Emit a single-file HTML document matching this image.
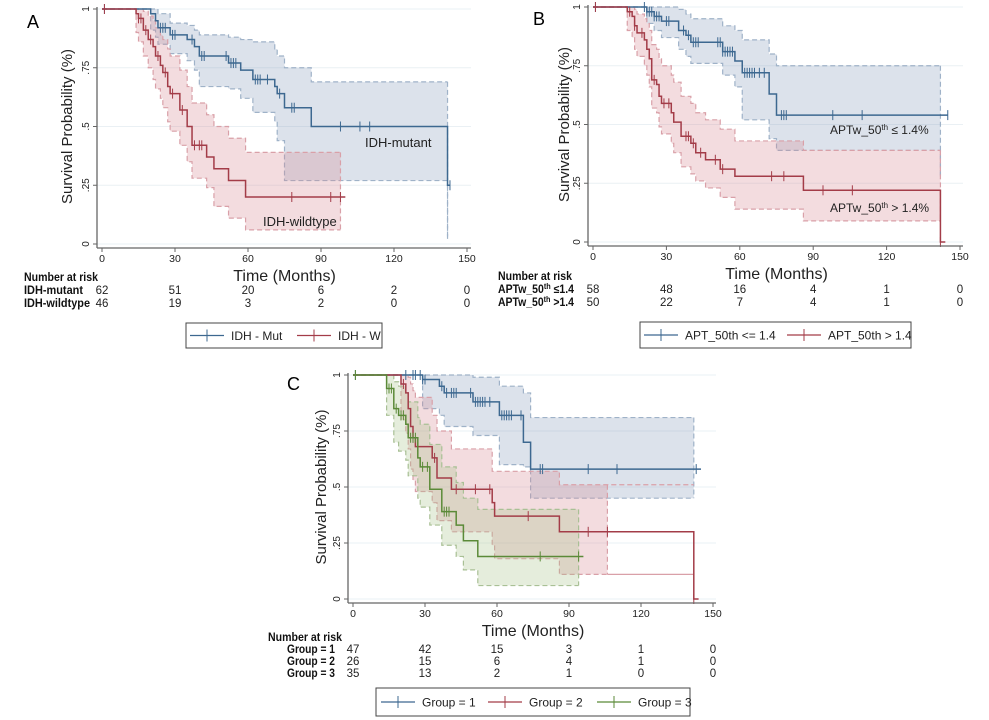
<!DOCTYPE html>
<html><head><meta charset="utf-8"><style>
html,body{margin:0;padding:0;background:#fff;}
svg{display:block;font-family:"Liberation Sans",sans-serif;}
</style></head><body>
<svg id="fig" width="989" height="720" viewBox="0 0 989 720" xmlns="http://www.w3.org/2000/svg"></svg>
<script>
// ---------- Panel A data ----------
const aMutTimes = [0,20,22,23,28,35,38,40,52,57,62,71,72,75,86,142];
const aMutSurv  = [1,.98,.95,.92,.89,.87,.84,.80,.77,.74,.70,.67,.64,.58,.50,.25];
const aMutUp    = [1,1,1,.98,.94,.93,.91,.89,.88,.87,.86,.83,.80,.75,.69,.69];
const aMutLo    = [1,.91,.88,.85,.81,.78,.74,.67,.66,.62,.56,.52,.44,.27,.27,.02];
const aMutCens  = [1,24,25,26,29,30,37,41,42,51,53,54,55,63,64,65,68,73,78,79,98,106,110,143];
const aWtTimes = [0,14,15,17,19,21,22,24,25,27,28,32,35,37,43,46,52,59];
const aWtSurv  = [1,.98,.96,.91,.87,.84,.80,.76,.73,.67,.64,.57,.50,.42,.37,.32,.27,.20];
const aWtUp    = [1,1,1,.99,.97,.95,.92,.89,.87,.83,.80,.74,.67,.60,.55,.50,.45,.39];
const aWtLo    = [1,.90,.86,.80,.75,.70,.66,.62,.58,.52,.48,.42,.35,.28,.24,.16,.11,.06];
const aWtCens  = [1,15,16,18,20,23,26,29,33,38,40,41,78,94,98];
const aRiskMut = [62,51,20,6,2,0];
const aRiskWt  = [46,19,3,2,0,0];
// ---------- Panel B data ----------
const bLoTimes = [0,22,25,28,35,38,40,53,58,61,72,75,142];
const bLoSurv  = [1,.98,.96,.94,.90,.88,.85,.81,.77,.72,.63,.54,.54];
const bLoUp    = [1,1,1,1,.99,.97,.95,.92,.90,.86,.80,.75,.75];
const bLoLo    = [1,.93,.90,.87,.82,.79,.76,.71,.66,.52,.44,.39,.27];
const bLoCens  = [1,21,22,23,24,25,26,27,30,31,37,39,41,42,43,51,52,53,54,55,56,57,62,63,64,65,66,68,70,77,78,79,98,110,145];
const bHiTimes = [0,14,16,17,18,21,22,23,24,26,27,28,32,33,36,40,42,46,52,58,86,142];
const bHiSurv  = [1,.98,.96,.92,.89,.86,.82,.78,.69,.67,.62,.59,.55,.51,.45,.42,.38,.35,.31,.28,.22,0];
const bHiUp    = [1,1,1,.99,.97,.95,.93,.90,.84,.82,.78,.75,.71,.68,.62,.59,.55,.52,.48,.43,.39,.39];
const bHiLo    = [1,.90,.87,.82,.79,.75,.71,.66,.57,.55,.49,.46,.42,.38,.32,.29,.26,.23,.19,.14,.09,.09];
const bHiCens  = [1,15,17,20,25,29,31,38,39,41,44,50,53,73,78,94,106,142];
const bRiskLo = [58,48,16,4,1,0];
const bRiskHi = [50,22,7,4,1,0];
// ---------- Panel C data ----------
const c1Times = [0,29,36,38,50,61,71,74];
const c1Surv  = [1,.98,.95,.92,.88,.82,.70,.58];
const c1Up    = [1,1,1,1,.99,.95,.92,.81];
const c1Lo    = [1,.85,.82,.77,.73,.60,.59,.45];
const c1Cens  = [1,22,25,26,28,29,30,37,39,41,42,43,49,51,52,53,54,55,57,62,63,64,65,66,70,78,79,98,110,143];
const c1CiEnd = 142;
const c2Times = [0,20,22,23,24,25,26,33,35,41,58,59,86,142];
const c2Surv  = [1,.96,.92,.85,.77,.72,.68,.63,.54,.49,.43,.37,.30,0];
const c2Up    = [1,1,1,.99,.96,.93,.90,.82,.75,.67,.57,.57,.51,.51];
const c2Lo    = [1,.80,.74,.67,.58,.53,.48,.43,.35,.30,.24,.18,.11,.11];
const c2Cens  = [21,25,27,34,43,51,57,73,98,106,142];
const c3Times = [0,14,17,19,22,23,27,28,32,37,43,46,52];
const c3Surv  = [1,.94,.85,.82,.78,.72,.63,.59,.49,.39,.33,.26,.19];
const c3Up    = [1,1,.97,.95,.92,.88,.81,.78,.69,.59,.52,.45,.40];
const c3Lo    = [1,.82,.70,.66,.62,.55,.45,.41,.33,.24,.19,.13,.06];
const c3Cens  = [1,15,16,18,20,21,24,25,26,29,31,38,39,40,78,94];
const cRisk1 = [47,42,15,3,1,0];
const cRisk2 = [26,15,6,4,1,0];
const cRisk3 = [35,13,2,1,0,0];
const xTicks = [0,30,60,90,120,150];
const yTicks = [0,.25,.5,.75,1];
const yTickLabels = ["0",".25",".5",".75","1"];

const NS="http://www.w3.org/2000/svg";
const fig=document.getElementById('fig');
function el(tag,attrs,parent,text){const e=document.createElementNS(NS,tag);for(const k in attrs)e.setAttribute(k,attrs[k]);if(text!==undefined)e.textContent=text;(parent||fig).appendChild(e);return e;}

const BLUE={line:'#3d6890',fill:'rgba(140,160,190,0.30)',dash:'#9fb2c8'};
const RED={line:'#a33c48',fill:'rgba(215,140,150,0.30)',dash:'#d9a0a8'};
const GREEN={line:'#5b8a38',fill:'rgba(170,195,140,0.30)',dash:'#a9c095'};

function stepPts(ts,vs,end,X,Y){let p=[[X(ts[0]),Y(vs[0])]];for(let i=1;i<ts.length;i++){p.push([X(ts[i]),Y(vs[i-1])]);p.push([X(ts[i]),Y(vs[i])]);}p.push([X(end),Y(vs[vs.length-1])]);return p;}
function survAt(ts,vs,t){let s=vs[0];for(let i=0;i<ts.length;i++){if(ts[i]<=t)s=vs[i];}return s;}

function panel(cfg){
  const g=el('g',{});
  
  
  const X=t=>cfg.x0+t*(cfg.x1-cfg.x0)/150, Y=s=>cfg.y0-s*(cfg.y0-cfg.y1);
  yTicks.forEach(v=>{const l=el('line',{x1:cfg.ax,x2:cfg.axR,y1:Y(v),y2:Y(v),stroke:'#eaf0f4','stroke-width':1},g);});
  cfg.series.forEach(s=>{
    const up=stepPts(s.t,s.up,s.ciEnd,X,Y), lo=stepPts(s.t,s.lo,s.ciEnd,X,Y);
    const poly=up.concat(lo.slice().reverse());
    const p=el('polygon',{points:poly.map(q=>q.join(',')).join(' '),fill:s.c.fill,stroke:'none'},g);
    
    [up,lo].forEach(pp=>{const l=el('polyline',{points:pp.map(q=>q.join(',')).join(' '),fill:'none',stroke:s.c.dash,'stroke-width':1.2,'stroke-dasharray':'5,3'},g);});
    const e=up[up.length-1],f=lo[lo.length-1];
    const v=el('line',{x1:e[0],y1:e[1],x2:f[0],y2:f[1],stroke:s.c.dash,'stroke-width':1.2,'stroke-dasharray':'5,3'},g);
  });
  cfg.series.forEach(s=>{
    const pts=stepPts(s.t,s.s,s.end,X,Y);
    const l=el('polyline',{points:pts.map(q=>q.join(',')).join(' '),fill:'none',stroke:s.c.line,'stroke-width':1.5},g);
    
    s.cens.forEach(t=>{const yy=Y(survAt(s.t,s.s,t));const m=el('line',{x1:X(t),x2:X(t),y1:yy-5,y2:yy+5,stroke:s.c.line,'stroke-width':1},g);});
  });
  const ya=el('line',{x1:cfg.ax,x2:cfg.ax,y1:cfg.y1-2,y2:cfg.ab,stroke:'#666','stroke-width':1.3},g);
  const xa=el('line',{x1:cfg.ax,x2:cfg.axR,y1:cfg.ab,y2:cfg.ab,stroke:'#666','stroke-width':1.3},g);
  yTicks.forEach((v,i)=>{el('line',{x1:cfg.ax-4,x2:cfg.ax,y1:Y(v),y2:Y(v),stroke:'#666'},g);
    const t=el('text',{x:cfg.ax-8,y:Y(v),'font-size':10,fill:'#222','text-anchor':'middle',transform:`rotate(-90 ${cfg.ax-8} ${Y(v)})`},g,yTickLabels[i]);});
  xTicks.forEach(v=>{el('line',{x1:X(v),x2:X(v),y1:cfg.ab,y2:cfg.ab+4,stroke:'#666'},g);
    const t=el('text',{x:X(v),y:cfg.ab+14,'font-size':10.5,fill:'#222','text-anchor':'middle'},g,String(v));});
  const yl=el('text',{x:cfg.ylx,y:(cfg.y0+cfg.y1)/2,'font-size':15,fill:'#222','text-anchor':'middle',transform:`rotate(-90 ${cfg.ylx} ${(cfg.y0+cfg.y1)/2})`},g,'Survival Probability (%)');
  const xl=el('text',{x:(cfg.x0+cfg.x1)/2,y:cfg.ab+33,'font-size':16,fill:'#222','text-anchor':'middle'},g,'Time (Months)');
  const lt=el('text',{x:cfg.letter[0],y:cfg.letter[1],'font-size':18,fill:'#000'},g,cfg.letter[2]);
  const h=el('text',{x:cfg.riskX,y:cfg.riskY,'font-size':12,'font-weight':'bold',fill:'#111',textLength:74,lengthAdjust:'spacingAndGlyphs'},g,'Number at risk');
  cfg.rows.forEach((r,i)=>{const yy=cfg.rowY+i*cfg.rowDy;
    const lb=el('text',{x:cfg.rowLX,y:yy,'font-size':11.5,'font-weight':'bold',fill:'#111','text-anchor':cfg.rowAnchor,textLength:r.w,lengthAdjust:'spacingAndGlyphs'},g);lb.innerHTML=r.label;
    r.vals.forEach((v,j)=>{const n=el('text',{x:X(xTicks[j]),y:yy,'font-size':11.5,fill:'#222','text-anchor':'middle'},g,String(v));});
  });
  const L=cfg.legend;
  const b=el('rect',{x:L.x,y:L.y,width:L.w,height:L.h,fill:'#fff',stroke:'#444','stroke-width':1},g);
  L.items.forEach(it=>{const cy=L.y+L.h/2;
    const gi=el('g',{},g);
    el('line',{x1:it.x,x2:it.x+34,y1:cy,y2:cy,stroke:it.c.line,'stroke-width':1.3},gi);
    el('line',{x1:it.x+17,x2:it.x+17,y1:cy-6,y2:cy+6,stroke:it.c.line,'stroke-width':1},gi);
    el('text',{x:it.x+41,y:cy+4.5,'font-size':12,fill:'#222'},gi,it.text);});
}

panel({name:'panel-a',x0:102,x1:467,y1:9,y0:244,ax:97,ab:248,axR:471,ylx:72,letter:[27,28,'A'],
  series:[{key:'idh-mutant',c:BLUE,t:aMutTimes,s:aMutSurv,up:aMutUp,lo:aMutLo,cens:aMutCens,end:143,ciEnd:142},
          {key:'idh-wildtype',c:RED,t:aWtTimes,s:aWtSurv,up:aWtUp,lo:aWtLo,cens:aWtCens,end:100,ciEnd:98}],
  riskX:24,riskY:281,rowY:294,rowDy:13,rowLX:24,rowAnchor:'start',
  rows:[{label:'IDH-mutant',vals:aRiskMut,w:59},{label:'IDH-wildtype',vals:aRiskWt,w:66}],
  legend:{x:186,y:323,w:196,h:25,items:[{x:190,c:BLUE,text:'IDH - Mut'},{x:297,c:RED,text:'IDH - W'}]}});
panel({name:'panel-b',x0:593,x1:960,y1:7,y0:242,ax:588,ab:246,axR:963,ylx:569,letter:[533,25,'B'],
  series:[{key:'apt-low',c:BLUE,t:bLoTimes,s:bLoSurv,up:bLoUp,lo:bLoLo,cens:bLoCens,end:145,ciEnd:142},
          {key:'apt-high',c:RED,t:bHiTimes,s:bHiSurv,up:bHiUp,lo:bHiLo,cens:bHiCens,end:144,ciEnd:142}],
  riskX:498,riskY:280,rowY:293,rowDy:13,rowLX:498,rowAnchor:'start',
  rows:[{label:'APTw_50<tspan font-size="8" dy="-4">th</tspan><tspan dy="4"> ≤1.4</tspan>',vals:bRiskLo,w:76},{label:'APTw_50<tspan font-size="8" dy="-4">th</tspan><tspan dy="4"> &gt;1.4</tspan>',vals:bRiskHi,w:76}],
  legend:{x:640,y:322,w:271,h:26,items:[{x:644,c:BLUE,text:'APT_50th <= 1.4'},{x:787,c:RED,text:'APT_50th > 1.4'}]}});
panel({name:'panel-c',x0:353,x1:713,y1:375,y0:599,ax:348,ab:603,axR:716,ylx:326,letter:[287,390,'C'],
  series:[{key:'group-1',c:BLUE,t:c1Times,s:c1Surv,up:c1Up,lo:c1Lo,cens:c1Cens,end:145,ciEnd:c1CiEnd},
          {key:'group-2',c:RED,t:c2Times,s:c2Surv,up:c2Up,lo:c2Lo,cens:c2Cens,end:144,ciEnd:106},
          {key:'group-3',c:GREEN,t:c3Times,s:c3Surv,up:c3Up,lo:c3Lo,cens:c3Cens,end:96,ciEnd:94}],
  riskX:268,riskY:641,rowY:653,rowDy:12,rowLX:335,rowAnchor:'end',
  rows:[{label:'Group = 1',vals:cRisk1,w:48},{label:'Group = 2',vals:cRisk2,w:48},{label:'Group = 3',vals:cRisk3,w:48}],
  legend:{x:376,y:688,w:314,h:28,items:[{x:381,c:BLUE,text:'Group = 1'},{x:488,c:RED,text:'Group = 2'},{x:597,c:GREEN,text:'Group = 3'}]}});

[['IDH-mutant',365,147],['IDH-wildtype',263,226]].forEach(a=>{const t=el('text',{x:a[1],y:a[2],'font-size':13,fill:'#222'},fig,a[0]);});
const an1=el('text',{x:830,y:134,'font-size':12,fill:'#222'});an1.innerHTML='APTw_50<tspan font-size="8" dy="-4">th</tspan><tspan dy="4"> ≤ 1.4%</tspan>';


const an2=el('text',{x:830,y:212,'font-size':12,fill:'#222'});an2.innerHTML='APTw_50<tspan font-size="8" dy="-4">th</tspan><tspan dy="4"> &gt; 1.4%</tspan>';


</script>
</body></html>
